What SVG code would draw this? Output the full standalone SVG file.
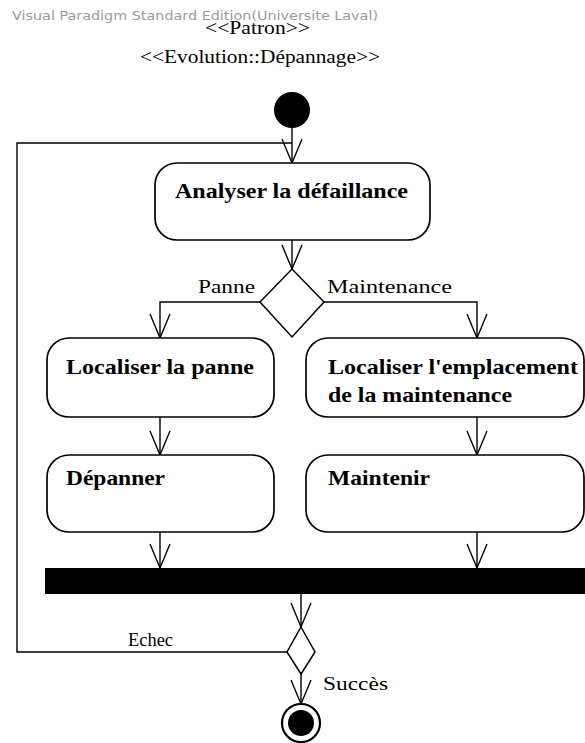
<svg xmlns="http://www.w3.org/2000/svg" width="585" height="743" viewBox="0 0 585 743">
  <defs>
    <marker id="open-arrow" markerUnits="userSpaceOnUse" markerWidth="30" markerHeight="26" viewBox="-26 -13 30 26" refX="0" refY="0" orient="auto">
      <path d="M-24,-10 L0,0 L-24,10" fill="none" stroke="#000" stroke-width="1.4"/>
    </marker>
    <style>
      .bg { fill: #fff; }
      .watermark { font-family: "DejaVu Sans", "Liberation Sans", sans-serif; font-size: 12.5px; fill: #9a9a9a; }
      .title { font-family: "Liberation Serif", "Times New Roman", serif; font-size: 19px; fill: #000; }
      .action { fill: #fff; stroke: #000; stroke-width: 1.7; }
      .action-label { font-family: "Liberation Serif", "Times New Roman", serif; font-size: 21px; font-weight: bold; fill: #000; }
      .guard { font-family: "Liberation Serif", "Times New Roman", serif; font-size: 18.5px; fill: #000; }
      .flow { fill: none; stroke: #000; stroke-width: 1.4; }
      .decision { fill: #fff; stroke: #000; stroke-width: 1.5; }
    </style>
  </defs>

  <rect class="bg" x="0" y="0" width="585" height="743"/>

  <text class="watermark" x="12" y="20" textLength="366" lengthAdjust="spacingAndGlyphs">Visual Paradigm Standard Edition(Universite Laval)</text>

  <g id="diagram-title">
    <text class="title" x="205" y="34" textLength="105" lengthAdjust="spacingAndGlyphs">&lt;&lt;Patron&gt;&gt;</text>
    <text class="title" x="140" y="63" textLength="240" lengthAdjust="spacingAndGlyphs">&lt;&lt;Evolution::Dépannage&gt;&gt;</text>
  </g>

  <!-- control flows -->
  <g id="connectors">
    <path class="flow" d="M292,128 L292,163" marker-end="url(#open-arrow)"/>
    <path class="flow" d="M288,652 L17,652 L17,143 L292,143"/>
    <path class="flow" d="M292,240 L292,269" marker-end="url(#open-arrow)"/>
    <path class="flow" d="M260,302 L160,302 L160,338" marker-end="url(#open-arrow)"/>
    <path class="flow" d="M324,302 L477,302 L477,338" marker-end="url(#open-arrow)"/>
    <path class="flow" d="M160,417 L160,455" marker-end="url(#open-arrow)"/>
    <path class="flow" d="M477,417 L477,455" marker-end="url(#open-arrow)"/>
    <path class="flow" d="M160,532 L160,568" marker-end="url(#open-arrow)"/>
    <path class="flow" d="M477,532 L477,568" marker-end="url(#open-arrow)"/>
    <path class="flow" d="M301,594 L301,627" marker-end="url(#open-arrow)"/>
    <path class="flow" d="M301,674 L301,704" marker-end="url(#open-arrow)"/>
    <text class="guard" x="198" y="293" textLength="57" lengthAdjust="spacingAndGlyphs">Panne</text>
    <text class="guard" x="327" y="293" textLength="125" lengthAdjust="spacingAndGlyphs">Maintenance</text>
    <text class="guard" x="128" y="646" textLength="45" lengthAdjust="spacingAndGlyphs">Echec</text>
    <text class="guard" x="323" y="690" textLength="65" lengthAdjust="spacingAndGlyphs">Succès</text>
  </g>

  <g id="initial">
    <circle cx="292" cy="110" r="18" fill="#000"/>
  </g>

  <g id="analyser">
    <rect class="action" x="155" y="163" width="275" height="77" rx="22" ry="22"/>
    <text class="action-label" x="175" y="198" textLength="233" lengthAdjust="spacingAndGlyphs">Analyser la défaillance</text>
  </g>

  <g id="decision-type">
    <polygon class="decision" points="292,269 324,302 292,337 260,302"/>
  </g>

  <g id="localiser-panne">
    <rect class="action" x="47" y="338" width="227" height="79" rx="22" ry="22"/>
    <text class="action-label" x="66" y="374" textLength="188" lengthAdjust="spacingAndGlyphs">Localiser la panne</text>
  </g>

  <g id="localiser-maintenance">
    <rect class="action" x="306" y="338" width="278" height="79" rx="22" ry="22"/>
    <text class="action-label" x="328" y="374" textLength="250" lengthAdjust="spacingAndGlyphs">Localiser l'emplacement</text>
    <text class="action-label" x="328" y="402" textLength="184" lengthAdjust="spacingAndGlyphs">de la maintenance</text>
  </g>

  <g id="depanner">
    <rect class="action" x="47" y="455" width="227" height="77" rx="22" ry="22"/>
    <text class="action-label" x="66" y="485" textLength="99" lengthAdjust="spacingAndGlyphs">Dépanner</text>
  </g>

  <g id="maintenir">
    <rect class="action" x="306" y="455" width="278" height="77" rx="22" ry="22"/>
    <text class="action-label" x="328" y="485" textLength="102" lengthAdjust="spacingAndGlyphs">Maintenir</text>
  </g>

  <g id="join">
    <rect x="45" y="568" width="545" height="26" fill="#000"/>
  </g>

  <g id="decision-result">
    <polygon class="decision" points="301,627 315,652 301,674 287,652"/>
  </g>

  <g id="final">
    <circle cx="301" cy="723" r="19" fill="#fff" stroke="#000" stroke-width="2.2"/>
    <circle cx="301" cy="723" r="13" fill="#000"/>
  </g>
</svg>
